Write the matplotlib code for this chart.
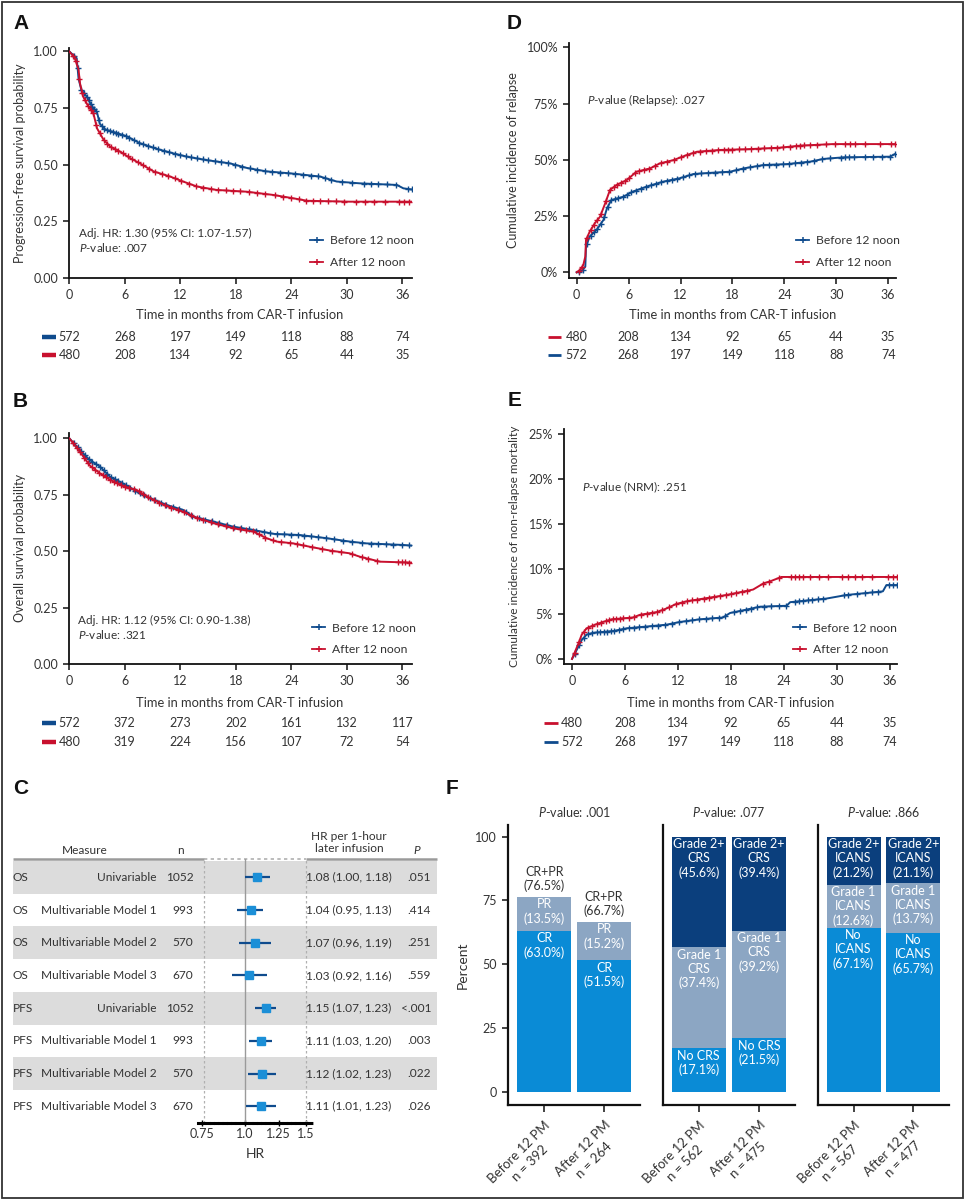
import numpy as np
import matplotlib
matplotlib.use("Agg")
import matplotlib.pyplot as plt
import matplotlib.transforms as mtransforms
from matplotlib.lines import Line2D
from matplotlib.patches import Rectangle
from matplotlib.ticker import NullLocator

W, H = 965, 1200

plt.rcParams['font.family'] = ['Lato', 'DejaVu Sans']
plt.rcParams['mathtext.fontset'] = 'custom'
plt.rcParams['mathtext.rm'] = 'Lato'
plt.rcParams['mathtext.it'] = 'Lato:italic'
NARROW = ['Lato', 'DejaVu Sans']

BLUE = '#0f4b8d'
RED = '#c8102e'
TXT = '#333333'
C_BRIGHT = '#0a8bd6'
C_GREY = '#8ca6c3'
C_NAVY = '#0b3f7d'
SQ = '#1b8fd7'

# ---------------- data ----------------
months = [0, 6, 12, 18, 24, 30, 36]

# A: progression-free survival
pfs_before_t = [0, 0.8, 1.0, 1.3, 1.9, 2.4, 3.0, 3.3, 3.9, 5.1, 6.2, 7.6, 9.4, 11.2, 12.7, 14.8,
                17.4, 19.2, 21.3, 24.2, 27.1, 28.9, 31.4, 35.4, 36.1, 37.0]
pfs_before_s = [1.0, 0.97, 0.88, 0.83, 0.80, 0.76, 0.73, 0.68, 0.655, 0.64, 0.625, 0.595, 0.57, 0.55,
                0.535, 0.52, 0.505, 0.485, 0.47, 0.46, 0.447, 0.425, 0.417, 0.41, 0.395, 0.39]
pfs_after_t = [0, 0.6, 1.0, 1.15, 1.5, 2.05, 2.6, 3.0, 3.7, 4.4, 5.5, 6.6, 7.6, 9.1, 10.9, 12.3,
               13.8, 15.9, 19.2, 22.0, 24.2, 25.7, 30.3, 37.0]
pfs_after_s = [1.0, 0.97, 0.92, 0.86, 0.80, 0.757, 0.727, 0.66, 0.61, 0.58, 0.557, 0.528, 0.506, 0.47,
               0.447, 0.425, 0.403, 0.388, 0.38, 0.366, 0.351, 0.34, 0.336, 0.336]
pfs_before_cens = [0.5, 0.9, 1.3, 1.6, 1.9, 2.1, 2.3, 2.5, 2.7, 2.9, 3.2, 3.5, 3.8, 4.1, 4.4, 4.7, 5.0,
                   5.3, 5.7, 6.1, 6.5, 7.0, 7.5, 8.0, 8.5, 9.0, 9.6, 10.2, 10.8, 11.4, 12.0, 12.6, 13.2,
                   13.8, 14.4, 15.0, 15.7, 16.4, 17.2, 17.9, 18.7, 19.5, 20.3, 21.1, 21.9, 22.8, 23.6,
                   24.4, 25.3, 26.1, 26.9, 27.6, 28.3, 29.5, 30.6, 31.8, 32.6, 33.4, 34.3, 35.3, 36.6, 37.0]
pfs_after_cens = [0.4, 0.7, 1.1, 1.4, 1.7, 2.0, 2.3, 2.6, 2.9, 3.3, 3.7, 4.1, 4.5, 4.9, 5.3, 5.8, 6.3,
                  6.8, 7.4, 8.0, 8.6, 9.3, 10.0, 10.7, 11.4, 12.1, 12.9, 13.7, 14.5, 15.3, 16.1, 16.9,
                  17.7, 18.5, 19.4, 20.3, 21.2, 22.2, 23.1, 24.0, 24.8, 25.6, 26.3, 27.1, 28.0, 28.8,
                  29.7, 31.0, 32.0, 32.9, 34.1, 35.6, 36.2, 36.7]
pfs_risk_before = [572, 268, 197, 149, 118, 88, 74]
pfs_risk_after = [480, 208, 134, 92, 65, 44, 35]

# B: overall survival
os_before_t = [0, 1.15, 2.2, 3.3, 4.4, 5.8, 7.3, 8.7, 10.5, 12.3, 13.4, 15.6, 17.7, 19.9, 22.1, 24.9,
               27.8, 30.3, 32.1, 36.1, 37.0]
os_before_s = [1.0, 0.948, 0.904, 0.875, 0.83, 0.80, 0.764, 0.735, 0.705, 0.683, 0.653, 0.631, 0.609,
               0.594, 0.577, 0.572, 0.558, 0.543, 0.535, 0.528, 0.525]
os_after_t = [0, 1.15, 2.2, 3.3, 4.4, 5.8, 7.3, 8.7, 10.5, 12.3, 13.4, 15.6, 17.7, 19.9, 21.3, 22.4,
              24.2, 26.0, 28.2, 30.3, 31.4, 33.6, 37.0]
os_after_s = [1.0, 0.94, 0.88, 0.845, 0.816, 0.789, 0.77, 0.735, 0.70, 0.675, 0.653, 0.624, 0.602,
              0.587, 0.558, 0.543, 0.535, 0.52, 0.503, 0.491, 0.476, 0.454, 0.45]
os_before_cens = [0.5, 0.9, 1.3, 1.7, 2.1, 2.5, 2.9, 3.3, 3.7, 4.1, 4.5, 4.9, 5.3, 5.7, 6.1, 6.6, 7.1,
                  7.6, 8.1, 8.7, 9.3, 9.9, 10.5, 11.2, 11.9, 12.6, 13.3, 14.0, 14.7, 15.4, 16.2, 17.0,
                  17.8, 18.6, 19.4, 20.2, 21.0, 21.7, 22.4, 23.2, 24.0, 24.7, 25.4, 26.1, 26.9, 27.7,
                  28.6, 29.6, 30.6, 31.6, 32.6, 33.4, 34.2, 35.0, 35.9, 36.7]
os_after_cens = [0.4, 0.8, 1.2, 1.6, 2.0, 2.4, 2.8, 3.2, 3.6, 4.0, 4.4, 4.8, 5.2, 5.6, 6.0, 6.5, 7.0,
                 7.5, 8.0, 8.5, 9.1, 9.7, 10.3, 11.0, 11.7, 12.4, 13.1, 13.8, 14.5, 15.3, 16.1, 16.9,
                 17.7, 18.4, 19.1, 19.8, 20.5, 21.2, 22.0, 22.9, 23.8, 24.6, 25.3, 26.2, 27.3, 28.4,
                 29.4, 30.6, 31.6, 32.3, 33.2, 35.5, 35.9, 36.3, 36.7]
os_risk_before = [572, 372, 273, 202, 161, 132, 117]
os_risk_after = [480, 319, 224, 156, 107, 72, 54]

# D: cumulative incidence of relapse (%)
rel_after_t = [0, 0.4, 0.77, 1.0, 1.08, 1.5, 2.1, 2.7, 3.3, 3.85, 4.6, 5.8, 6.9, 8.5, 9.6, 11.2,
               12.7, 13.9, 16.6, 19.6, 23.5, 25.8, 29.6, 37.0]
rel_after_v = [0, 1.0, 3.3, 7.0, 14.4, 18.0, 21.8, 24.7, 30.7, 36.6, 38.8, 41.0, 44.7, 46.2, 48.4,
               49.9, 52.1, 53.6, 54.4, 54.7, 55.4, 56.3, 57.0, 57.0]
rel_before_t = [0, 0.6, 1.0, 1.08, 1.5, 2.3, 3.1, 3.5, 4.0, 5.4, 6.5, 8.1, 10.0, 11.9, 13.5, 15.8,
                17.7, 19.3, 21.6, 24.3, 27.0, 28.5, 30.8, 36.2, 36.8, 37.0]
rel_before_v = [0, 0.7, 2.5, 11.4, 15.9, 18.8, 23.3, 28.4, 32.1, 33.6, 35.9, 38.1, 40.3, 41.8, 43.7,
                44.3, 44.7, 46.2, 47.7, 48.1, 49.2, 50.4, 51.1, 51.4, 52.6, 52.6]
rel_after_cens = [0.3, 0.6, 1.2, 1.6, 2.0, 2.4, 2.8, 3.4, 3.9, 4.3, 4.7, 5.1, 5.6, 6.1, 6.7, 7.2, 7.8,
                  8.4, 9.0, 9.7, 10.4, 11.2, 12.0, 12.8, 13.5, 14.2, 14.9, 15.6, 16.3, 17.0, 17.5,
                  18.0, 18.8, 19.5, 20.2, 21.0, 21.7, 22.5, 23.2, 23.9, 24.6, 25.3, 25.8, 26.3, 27.0,
                  27.8, 28.8, 29.8, 31.0, 31.6, 32.2, 33.3, 35.0, 36.3, 36.8]
rel_before_cens = [0.3, 0.7, 1.2, 1.6, 2.0, 2.4, 2.8, 3.2, 3.6, 4.0, 4.4, 4.8, 5.3, 5.8, 6.3, 6.8,
                   7.4, 8.0, 8.6, 9.2, 9.8, 10.4, 11.0, 11.6, 12.3, 13.0, 13.7, 14.4, 15.2, 16.0,
                   16.8, 17.6, 18.4, 19.2, 20.0, 20.8, 21.5, 22.2, 23.0, 23.8, 24.5, 25.2, 25.9,
                   26.6, 27.4, 28.3, 29.3, 30.5, 31.0, 31.5, 32.0, 33.3, 34.3, 35.3, 36.2, 36.8]

# E: cumulative incidence of non-relapse mortality (%)
nrm_after_t = [0, 0.34, 0.72, 1.1, 1.66, 2.6, 3.5, 4.5, 6.9, 7.7, 9.6, 10.7, 11.8, 13.0, 14.9, 17.5,
               20.5, 21.7, 22.4, 23.7, 37.0]
nrm_after_v = [0, 0.8, 1.7, 2.7, 3.4, 3.8, 4.1, 4.4, 4.6, 4.9, 5.2, 5.6, 6.1, 6.4, 6.7, 7.1, 7.7,
               8.4, 8.6, 9.1, 9.1]
nrm_before_t = [0, 0.53, 1.1, 1.66, 2.4, 4.7, 6.2, 8.5, 10.7, 12.2, 14.5, 17.1, 17.9, 19.4, 21.3,
                24.3, 24.7, 28.8, 31.1, 35.2, 35.6, 37.0]
nrm_before_v = [0, 1.0, 2.1, 2.7, 2.9, 3.1, 3.4, 3.6, 3.8, 4.1, 4.4, 4.6, 5.1, 5.4, 5.8, 5.9, 6.3,
                6.7, 7.1, 7.5, 8.2, 8.2]
nrm_after_cens = [0.3, 0.8, 1.3, 1.8, 2.3, 2.8, 3.3, 3.8, 4.2, 4.6, 5.0, 5.4, 5.8, 6.4, 7.0, 7.8,
                  8.5, 9.0, 9.6, 10.2, 11.0, 11.8, 12.4, 13.0, 13.6, 14.2, 14.9, 15.5, 16.1, 16.7,
                  17.4, 18.0, 18.6, 19.2, 19.8, 21.6, 22.3, 23.4, 24.8, 25.3, 25.7, 26.1, 27.0, 28.0,
                  29.0, 30.6, 31.3, 32.0, 32.8, 34.0, 35.8, 36.4, 36.8]
nrm_before_cens = [0.3, 0.8, 1.3, 1.8, 2.3, 2.8, 3.2, 3.6, 4.0, 4.4, 4.8, 5.3, 5.8, 6.4, 7.0, 7.6,
                   8.3, 9.0, 9.7, 10.5, 11.3, 12.1, 12.9, 13.6, 14.4, 15.2, 15.9, 16.6, 17.3, 18.3,
                   19.0, 19.7, 20.3, 21.0, 21.7, 22.5, 23.4, 24.2, 25.2, 25.7, 26.2, 26.7, 27.2, 27.8,
                   28.4, 30.8, 31.3, 32.3, 33.2, 34.0, 34.6, 35.9, 36.4, 36.8]

# C: forest plot
c_measure = ['OS', 'OS', 'OS', 'OS', 'PFS', 'PFS', 'PFS', 'PFS']
c_model = ['Univariable', 'Multivariable Model 1', 'Multivariable Model 2', 'Multivariable Model 3'] * 2
c_n = [1052, 993, 570, 670, 1052, 993, 570, 670]
c_hr = [1.08, 1.04, 1.07, 1.03, 1.15, 1.11, 1.12, 1.11]
c_lo = [1.00, 0.95, 0.96, 0.92, 1.07, 1.03, 1.02, 1.01]
c_hi = [1.18, 1.13, 1.19, 1.16, 1.23, 1.20, 1.23, 1.23]
c_p = ['.051', '.414', '.251', '.559', '<.001', '.003', '.022', '.026']

# F: stacked bars (segment heights, labels as printed)
f_resp = {'CR': [63.0, 51.5], 'PR': [13.5, 15.2]}
f_resp_lab = {'CR': ['63.0%', '51.5%'], 'PR': ['13.5%', '15.2%']}
f_resp_total = ['76.5%', '66.7%']
f_crs = {'No CRS': [17.1, 21.0], 'Grade 1\nCRS': [39.5, 42.0], 'Grade 2+\nCRS': [43.4, 37.0]}
f_crs_lab = {'No CRS': ['17.1%', '21.5%'], 'Grade 1\nCRS': ['37.4%', '39.2%'],
             'Grade 2+\nCRS': ['45.6%', '39.4%']}
f_icans = {'No\nICANS': [64.4, 62.4], 'Grade 1\nICANS': [16.8, 19.4], 'Grade 2+\nICANS': [18.8, 18.2]}
f_icans_lab = {'No\nICANS': ['67.1%', '65.7%'], 'Grade 1\nICANS': ['12.6%', '13.7%'],
               'Grade 2+\nICANS': ['21.2%', '21.1%']}
f_pvals = ['.001', '.077', '.866']
f_xlabels = [['Before 12 PM\nn = 392', 'After 12 PM\nn = 264'],
             ['Before 12 PM\nn = 562', 'After 12 PM\nn = 475'],
             ['Before 12 PM\nn = 567', 'After 12 PM\nn = 477']]

# ---------------- figure ----------------
fig = plt.figure(figsize=(W / 100, H / 100), dpi=100)
fig.patch.set_facecolor('white')


def add_ax(x0, y0, x1, y1):
    return fig.add_axes([x0 / W, 1 - y1 / H, (x1 - x0) / W, (y1 - y0) / H])


def ftext(x, y, s, **kw):
    kw.setdefault('va', 'center')
    kw.setdefault('color', TXT)
    return fig.text(x / W, 1 - y / H, s, **kw)


def style(ax, lw=1.3):
    for s in ['top', 'right']:
        ax.spines[s].set_visible(False)
    for s in ['left', 'bottom']:
        ax.spines[s].set_linewidth(lw)
        ax.spines[s].set_color('#111111')
    ax.tick_params(direction='out', length=4, width=1.1, pad=4, labelsize=9,
                   labelcolor=TXT, color='#111111')


def curve(ax, t, v, cens, color):
    ax.plot(t, v, color=color, lw=1.4, clip_on=True, zorder=3)
    ax.plot(cens, np.interp(cens, t, v), ls='none', marker='+', ms=4.5, mew=1.0,
            color=color, zorder=3)


def risk_rows(ax, rows, key_x, key_lw):
    trans = mtransforms.blended_transform_factory(ax.transData, fig.transFigure)
    for y, counts, color in rows:
        for t, n in zip(months, counts):
            ax.text(t, 1 - y / H, str(n), transform=trans, ha='center', va='center',
                    fontsize=9, color=TXT, clip_on=False)
        fig.add_artist(Line2D([key_x[0] / W, key_x[1] / W], [1 - y / H, 1 - y / H],
                              transform=fig.transFigure, color=color, lw=key_lw,
                              solid_capstyle='butt'))


def legend(ax, x, ytop):
    handles = [Line2D([], [], color=BLUE, lw=1.3, marker='+', ms=5, mew=1.1),
               Line2D([], [], color=RED, lw=1.3, marker='+', ms=5, mew=1.1)]
    ax.legend(handles, ['Before 12 noon', 'After 12 noon'], loc='upper left',
              bbox_to_anchor=(x / W, 1 - ytop / H), bbox_transform=fig.transFigure,
              frameon=False, fontsize=8.7, handlelength=1.1, handletextpad=0.55,
              labelspacing=0.9, borderpad=0, borderaxespad=0, labelcolor=TXT)


# ---- A ----
axA = add_ax(69.3, 48.5, 411.7, 277.7)
style(axA)
curve(axA, pfs_before_t, pfs_before_s, pfs_before_cens, BLUE)
curve(axA, pfs_after_t, pfs_after_s, pfs_after_cens, RED)
axA.set_xlim(0, 37.0)
axA.set_ylim(0, 1.013)
axA.set_xticks(months)
axA.set_yticks([0, 0.25, 0.5, 0.75, 1.0])
axA.set_yticklabels(['0.00', '0.25', '0.50', '0.75', '1.00'])
legend(axA, 310, 235)
risk_rows(axA, [(337, pfs_risk_before, BLUE), (355, pfs_risk_after, RED)], (42, 56), 3.2)
ftext(20.5, 163, 'Progression-free survival probability', rotation=90, ha='center',
      fontsize=9, family=NARROW)
ftext(240, 315, 'Time in months from CAR-T infusion', ha='center', fontsize=9.3, family=NARROW)
ftext(79, 233, 'Adj. HR: 1.30 (95% CI: 1.07-1.57)', fontsize=8.5)
ftext(79, 247, r'$\it{P}$-value: .007', fontsize=8.5)

# ---- B ----
axB = add_ax(69.3, 433.3, 411.7, 664.3)
style(axB)
curve(axB, os_before_t, os_before_s, os_before_cens, BLUE)
curve(axB, os_after_t, os_after_s, os_after_cens, RED)
axB.set_xlim(0, 37.0)
axB.set_ylim(0, 1.022)
axB.set_xticks(months)
axB.set_yticks([0, 0.25, 0.5, 0.75, 1.0])
axB.set_yticklabels(['0.00', '0.25', '0.50', '0.75', '1.00'])
legend(axB, 312, 622.5)
risk_rows(axB, [(723.3, os_risk_before, BLUE), (741.7, os_risk_after, RED)], (42, 56), 3.2)
ftext(20.5, 548, 'Overall survival probability', rotation=90, ha='center',
      fontsize=9, family=NARROW)
ftext(240, 702.7, 'Time in months from CAR-T infusion', ha='center', fontsize=9.3, family=NARROW)
ftext(78, 620.7, 'Adj. HR: 1.12 (95% CI: 0.90-1.38)', fontsize=8.5)
ftext(78, 634.3, r'$\it{P}$-value: .321', fontsize=8.5)

# ---- D ----
axD = add_ax(569.3, 43.3, 896, 277.7)
style(axD)
curve(axD, rel_before_t, rel_before_v, rel_before_cens, BLUE)
curve(axD, rel_after_t, rel_after_v, rel_after_cens, RED)
axD.set_xlim(-0.85, 36.9)
axD.set_ylim(-2.4, 101.8)
axD.set_xticks(months)
axD.set_yticks([0, 25, 50, 75, 100])
axD.set_yticklabels(['0%', '25%', '50%', '75%', '100%'])
legend(axD, 796, 235)
risk_rows(axD, [(337, pfs_risk_after, RED), (355, pfs_risk_before, BLUE)], (548, 561), 2.0)
ftext(513.3, 160.5, 'Cumulative incidence of relapse', rotation=90, ha='center',
      fontsize=9, family=NARROW)
ftext(732.3, 315, 'Time in months from CAR-T infusion', ha='center', fontsize=9.3, family=NARROW)
ftext(587, 100, r'$\it{P}$-value (Relapse): .027', fontsize=8.5)

# ---- E ----
axE = add_ax(564, 429.3, 897, 664.3)
style(axE)
curve(axE, nrm_before_t, nrm_before_v, nrm_before_cens, BLUE)
curve(axE, nrm_after_t, nrm_after_v, nrm_after_cens, RED)
axE.set_xlim(-0.91, 36.8)
axE.set_ylim(-0.6, 25.5)
axE.set_xticks(months)
axE.set_yticks([0, 5, 10, 15, 20, 25])
axE.set_yticklabels(['0%', '5%', '10%', '15%', '20%', '25%'])
legend(axE, 793, 622.5)
risk_rows(axE, [(723.3, pfs_risk_after, RED), (741.7, pfs_risk_before, BLUE)], (544.3, 558.3), 2.0)
ftext(515, 546.8, 'Cumulative incidence of non-relapse mortality', rotation=90, ha='center',
      fontsize=8.6, family=NARROW)
ftext(730.7, 702.7, 'Time in months from CAR-T infusion', ha='center', fontsize=9.3, family=NARROW)
ftext(582, 487.3, r'$\it{P}$-value (NRM): .251', fontsize=8.5)

# ---- C ----
tab = add_ax(12.7, 859.3, 437.3, 1123.3)
tab.set_xlim(12.7, 437.3)
tab.set_ylim(7.52, -0.55)
tab.axis('off')
rows = np.arange(len(c_hr))
for i in rows[::2]:
    tab.axhspan(i - 0.5, i + 0.5, color='#dcdcdc', lw=0, zorder=0)
tab.hlines(-0.55, 12.7, 204, color='#9a9a9a', lw=1.8, clip_on=False)
tab.hlines(-0.55, 306, 437.3, color='#9a9a9a', lw=1.8, clip_on=False)
for i in rows:
    kw = dict(va='center', fontsize=8.6, color=TXT)
    tab.text(12.7, i, c_measure[i], ha='left', **kw)
    tab.text(156.5, i, c_model[i], ha='right', **kw)
    tab.text(193.5, i, str(c_n[i]), ha='right', **kw)
    tab.text(306.5, i, f'{c_hr[i]:.2f} ({c_lo[i]:.2f}, {c_hi[i]:.2f})', ha='left', **kw)
    tab.text(431, i, c_p[i], ha='right', **kw)
ftext(85, 850, 'Measure', ha='center', fontsize=8.6)
ftext(180, 850, 'n', ha='center', fontsize=8.6)
ftext(349, 842.5, 'HR per 1-hour\nlater infusion', ha='center', fontsize=8.6, linespacing=1.1)
ftext(417, 850, 'P', ha='center', fontsize=8.6, style='italic')

fo = add_ax(198, 859.3, 311.7, 1123.3)
fo.patch.set_alpha(0)
fo.set_xscale('log')
fo.set_xlim(0.732, 1.557)
fo.set_ylim(7.52, -0.55)
for s in ['top', 'left', 'right']:
    fo.spines[s].set_visible(False)
fo.spines['bottom'].set_linewidth(2.2)
fo.spines['bottom'].set_linestyle((0, (0.7, 0.7)))
fo.axvline(0.762, color='#b0b0b0', ls=(0, (2, 2)), lw=0.9)
fo.axvline(1.5, color='#b0b0b0', ls=(0, (2, 2)), lw=0.9)
fo.hlines(-0.55, 0.762, 1.5, color='#b0b0b0', ls=(0, (2, 2)), lw=1.2, clip_on=False)
fo.axvline(1.0, color='#9a9a9a', lw=1.0)
fo.hlines(rows, c_lo, c_hi, color=BLUE, lw=1.6, zorder=3)
fo.plot(c_hr, rows, 's', color=SQ, ms=5.5, zorder=4)
fo.set_yticks([])
fo.set_xticks([0.75, 1.0, 1.25, 1.5])
fo.set_xticklabels(['0.75', '1.0', '1.25', '1.5'])
fo.xaxis.set_minor_locator(NullLocator())
fo.tick_params(axis='x', direction='inout', length=5, width=1.0, pad=1, labelsize=9,
               labelcolor=TXT)
ftext(255, 1154, 'HR', ha='center', fontsize=10, family=NARROW)

# ---- F ----
f_axes_px = [(508.3, 640), (662.7, 795), (817.7, 949.3)]
f_sets = [(f_resp, f_resp_lab, [C_BRIGHT, C_GREY]),
          (f_crs, f_crs_lab, [C_BRIGHT, C_GREY, C_NAVY]),
          (f_icans, f_icans_lab, [C_BRIGHT, C_GREY, C_NAVY])]
xpos = np.array([0, 1])
for k, ((x0, x1), (segs, labs, cols)) in enumerate(zip(f_axes_px, f_sets)):
    ax = add_ax(x0, 825, x1, 1105)
    style(ax, lw=1.6)
    bottom = np.zeros(2)
    for (name, vals), col in zip(segs.items(), cols):
        vals = np.array(vals)
        ax.bar(xpos, vals, width=0.9, bottom=bottom, color=col, lw=0)
        top = bottom + vals
        for j in range(2):
            ax.annotate(f'{name}\n({labs[name][j]})', (xpos[j], top[j]), xytext=(0, -1),
                        textcoords='offset points', ha='center', va='top', fontsize=9,
                        color='white', linespacing=1.2)
        bottom = top
    if k == 0:
        for j in range(2):
            ax.annotate(f'CR+PR\n({f_resp_total[j]})', (xpos[j], bottom[j]), xytext=(0, 3),
                        textcoords='offset points', ha='center', va='bottom', fontsize=9,
                        color=TXT, linespacing=1.2)
        ax.set_yticks([0, 25, 50, 75, 100])
    else:
        ax.tick_params(axis='y', left=False, labelleft=False)
    ax.set_xlim(-0.6, 1.6)
    ax.set_ylim(-5.2, 104.6)
    ax.set_xticks(xpos)
    ax.set_xticklabels(f_xlabels[k], rotation=45, ha='right', va='top', rotation_mode='anchor',
                       multialignment='center', fontsize=9.5, linespacing=1.35)
    ax.tick_params(axis='x', length=5, pad=5)
    ftext((x0 + x1) / 2, 811.7, r'$\it{P}$-value: ' + f_pvals[k], ha='center', fontsize=9)
ftext(462.7, 965, 'Percent', rotation=90, ha='center', fontsize=10, family=NARROW)

# ---- panel letters and frame ----
for letter, x, y in [('A', 13, 23.5), ('D', 507, 23.5), ('B', 13, 401.5), ('E', 508, 400.5),
                     ('C', 13, 788), ('F', 446, 788)]:
    ftext(x, y, letter, ha='left', fontsize=15, weight='bold', color='#111111',
          family=['Liberation Sans', 'DejaVu Sans'])
fig.add_artist(Rectangle((1.5 / W, 2.5 / H), (W - 3.5) / W, (H - 4) / H, transform=fig.transFigure,
                         fill=False, lw=1.3, ec='#333333'))

fig.savefig('out.png', dpi=100)
